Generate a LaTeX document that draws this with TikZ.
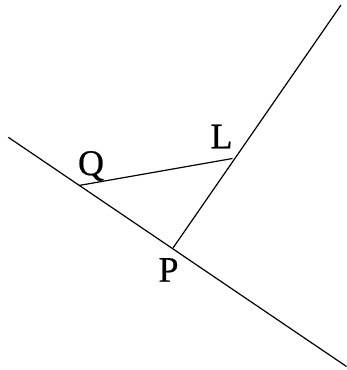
\documentclass[tikz,border=0pt]{standalone}
\usepackage{fontspec}
\setmainfont{Liberation Serif}
\newfontfamily\lblfont[FakeBold=0.6]{Liberation Serif}
\usetikzlibrary{calc}
\begin{document}
\begin{tikzpicture}[x=1pt,y=1pt,
    lbl/.style={inner sep=0pt,anchor=base,font=\lblfont\fontsize{36}{42}\selectfont},
    ln/.style={line width=1.2pt}]
            \useasboundingbox (0,0) rectangle (347,370);
            \coordinate (A) at (8.3,232.7);
            \coordinate (B) at (346.5,3.5);
            \coordinate (P) at (173,122);
            \coordinate (T) at (341,365);
            \coordinate (Q) at ($(A)!0.21!(B)$);
            \coordinate (L) at (232.5,211.5);

            \draw [ln] (A) -- (B);
            \draw [ln] (P) -- (T);
            \draw [ln] (Q) -- (L);

            \node[lbl] (labQ) at (91,195) {Q};
            \node[lbl] (labL) at (221.5,221.7) {L};
            \node[lbl] (labP) at (168.5,88.3) {P};
        \end{tikzpicture}
\end{document}
